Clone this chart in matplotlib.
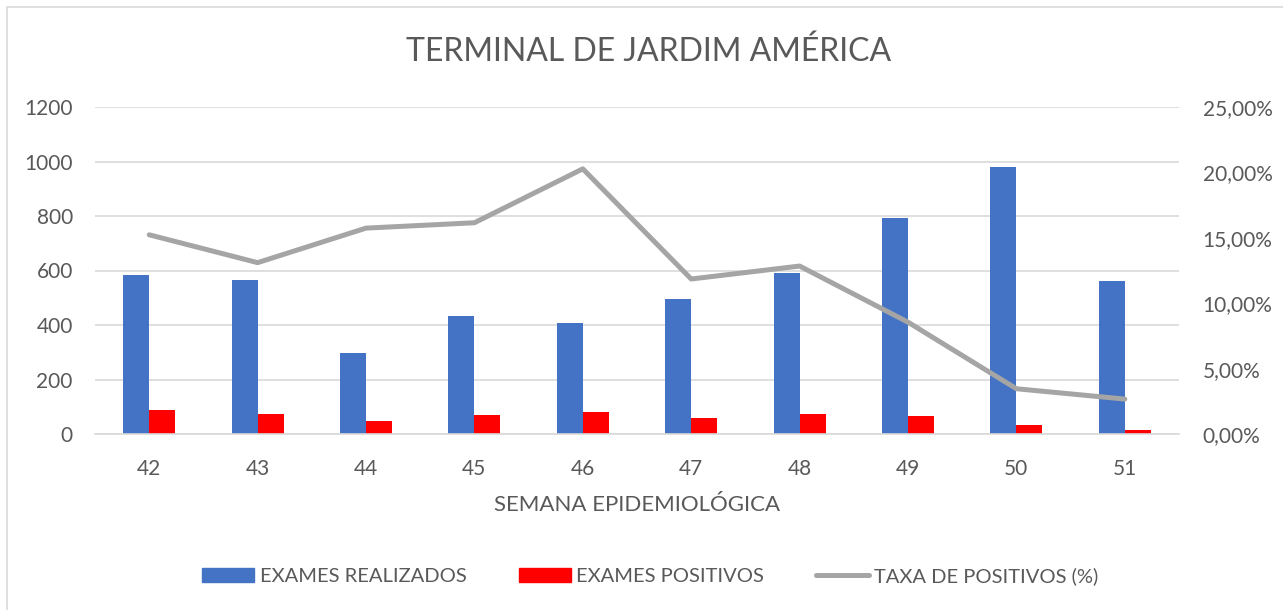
import numpy as np
import matplotlib
matplotlib.use('Agg')
import matplotlib.pyplot as plt
import matplotlib.patches as mpatches
import matplotlib.lines as mlines
from matplotlib.ticker import FuncFormatter

plt.rcParams['font.family'] = ['Lato', 'DejaVu Sans']

semanas = ['42', '43', '44', '45', '46', '47', '48', '49', '50', '51']
exames_realizados = [585, 565, 299, 433, 409, 497, 591, 791, 979, 562]
exames_positivos = [88, 74, 46, 70, 82, 59, 75, 67, 33, 15]
taxa_positivos = [0.1523, 0.1310, 0.1574, 0.1615, 0.2027, 0.1185, 0.1284, 0.0855, 0.0346, 0.0267]

azul = '#4472C4'
vermelho = '#FF0000'
cinza = '#A5A5A5'
texto = '#595959'
grade = '#D9D9D9'

W, H = 1283, 610
fig = plt.figure(figsize=(W / 100, H / 100), dpi=100)
fig.patch.set_facecolor('white')

# moldura do grafico
fig.add_artist(mpatches.Rectangle((7 / W, -0.1), 1.2, (603 / H) + 0.1,
                                  transform=fig.transFigure, fill=False,
                                  edgecolor=grade, linewidth=1.2))

ax = fig.add_axes([95 / W, (H - 434) / H, (1179 - 95) / W, (434 - 107) / H])
ax2 = ax.twinx()

x = np.arange(len(semanas))
larg = 0.24
ax.bar(x - larg / 2, exames_realizados, larg, color=azul, zorder=2)
ax.bar(x + larg / 2, exames_positivos, larg, color=vermelho, zorder=2)
ax2.plot(x, taxa_positivos, color=cinza, linewidth=3.6, solid_capstyle='round',
         solid_joinstyle='round', zorder=3)

ax.set_xlim(-0.5, len(semanas) - 0.5)
ax.set_ylim(0, 1200)
ax.set_yticks(range(0, 1201, 200))
ax2.set_ylim(0, 0.25)
ax2.set_yticks(np.arange(0, 0.2501, 0.05))
ax2.yaxis.set_major_formatter(FuncFormatter(lambda v, p: ('%.2f%%' % (v * 100)).replace('.', ',')))

ax.set_xticks(x)
ax.set_xticklabels(semanas)
ax.grid(axis='y', color=grade, linewidth=1.2, zorder=0)
ax.set_axisbelow(True)

for a in (ax, ax2):
    for s in a.spines.values():
        s.set_visible(False)
    a.tick_params(length=0, labelsize=15, labelcolor=texto)
ax.spines['bottom'].set_visible(True)
ax.spines['bottom'].set_color(grade)
ax.spines['bottom'].set_linewidth(1.2)
ax.tick_params(axis='y', pad=16)
ax2.tick_params(axis='y', pad=17)
ax.tick_params(axis='x', pad=18)

fig.text(649 / W, 1 - 52 / H, 'TERMINAL DE JARDIM AMÉRICA', ha='center', va='center',
         fontsize=23, color=texto)
fig.text(637 / W, 1 - 505 / H, 'SEMANA EPIDEMIOLÓGICA', ha='center', va='center',
         fontsize=16, color=texto)

h1 = mpatches.Patch(color=azul, label='EXAMES REALIZADOS')
h2 = mpatches.Patch(color=vermelho, label='EXAMES POSITIVOS')
h3 = mlines.Line2D([], [], color=cinza, linewidth=3.6, solid_capstyle='round',
                   label='TAXA DE POSITIVOS (%)')
leg = fig.legend(handles=[h1, h2, h3], loc='center', ncol=3, frameon=False,
                 bbox_to_anchor=(650 / W, 1 - 576 / H), fontsize=14.5,
                 handlelength=2.6, handleheight=0.7, handletextpad=0.25,
                 columnspacing=2.6, labelcolor=texto)

fig.savefig('out.png', dpi=100, facecolor='white')
